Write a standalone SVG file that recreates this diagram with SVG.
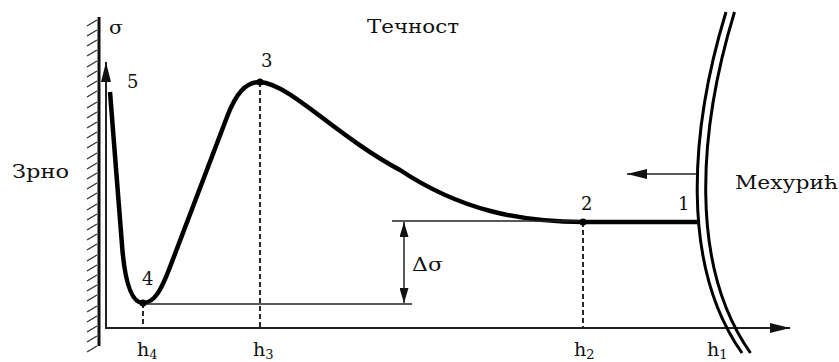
<svg xmlns="http://www.w3.org/2000/svg" width="839" height="362" viewBox="0 0 839 362">
<style>
text{font-family:"DejaVu Serif","Liberation Serif",serif;font-size:18px;fill:#111}
.h{font-size:19px}
.sub{font-size:13px}
.thin{stroke:#222;stroke-width:1.5;fill:none}
.axis{stroke:#222;stroke-width:2;fill:none}
.dash{stroke:#111;stroke-width:1.8;stroke-dasharray:5 3;fill:none}
.curve{stroke:#000;stroke-width:4.5;fill:none;stroke-linejoin:round;stroke-linecap:butt}
.bub{stroke:#000;stroke-width:3;fill:none}
.hatch{stroke:#333;stroke-width:1.4}
</style>
<defs>
<marker id="ah" viewBox="0 0 20 10" refX="20" refY="5" markerWidth="20" markerHeight="10" markerUnits="userSpaceOnUse" orient="auto">
<path d="M0,0 L20,5 L0,10 z" fill="#111"/>
</marker>
<marker id="ahs" viewBox="0 0 15 9" refX="15" refY="4.5" markerWidth="15" markerHeight="9" markerUnits="userSpaceOnUse" orient="auto-start-reverse">
<path d="M0,0 L15,4.5 L0,9 z" fill="#111"/>
</marker>
</defs>
<g id="wall">
<line x1="99" y1="17" x2="99" y2="346" stroke="#111" stroke-width="3"/>
<path class="hatch" d="M87,26 L97,20 M87,36 L97,30 M87,46 L97,40 M87,56 L97,50 M87,67 L97,61 M87,77 L97,71 M87,87 L97,81 M87,97 L97,91 M87,108 L97,102 M87,118 L97,112 M87,128 L97,122 M87,138 L97,132 M87,148 L97,142 M87,159 L97,153 M87,169 L97,163 M87,179 L97,173 M87,189 L97,183 M87,199 L97,193 M87,210 L97,204 M87,220 L97,214 M87,230 L97,224 M87,240 L97,234 M87,250 L97,244 M87,261 L97,255 M87,271 L97,265 M87,281 L97,275 M87,291 L97,285 M87,301 L97,295 M87,312 L97,306 M87,322 L97,316 M87,332 L97,326 M87,342 L97,336 M87,352 L97,346"/>
<text x="12" y="178" textLength="57" lengthAdjust="spacingAndGlyphs">Зрно</text>
</g>
<g id="axes">
<line class="axis" x1="106" y1="329" x2="106" y2="62" marker-end="url(#ah)"/>
<line class="axis" x1="105" y1="328" x2="790" y2="328" marker-end="url(#ah)"/>
<text x="109" y="34" textLength="14" lengthAdjust="spacingAndGlyphs">σ</text>
<text class="h" x="137" y="356">h<tspan class="sub" dy="3">4</tspan></text>
<text class="h" x="253" y="356">h<tspan class="sub" dy="3">3</tspan></text>
<text class="h" x="574" y="356">h<tspan class="sub" dy="3">2</tspan></text>
<text class="h" x="707" y="356">h<tspan class="sub" dy="3">1</tspan></text>
</g>
<g id="bubble">
<path class="bub" d="M726,12 C690,130 680,265 742,353"/>
<path class="bub" d="M734.5,12 C698.5,130 688.5,265 750.5,353"/>
<text x="735" y="189" textLength="103" lengthAdjust="spacingAndGlyphs">Мехурић</text>
</g>
<g id="liquid">
<text x="367" y="33" textLength="92" lengthAdjust="spacingAndGlyphs">Течност</text>
</g>
<g id="connectors">
<path class="curve" d="M110,92 L122,245 C125,285 132,303 143,303 C155,303 162,288 170,267 L227,117 C236,93 246,82 260,82 C290,84 335,135 400,170 C460,210 520,222 583,222 L699,222"/>
<line class="dash" x1="143" y1="303" x2="143" y2="327"/>
<line class="dash" x1="260" y1="82" x2="260" y2="327"/>
<line class="dash" x1="583" y1="222" x2="583" y2="327"/>
<line class="thin" x1="143" y1="304" x2="412" y2="304"/>
<line class="thin" x1="392" y1="221" x2="583" y2="221"/>
<line class="thin" x1="404" y1="222" x2="404" y2="303" marker-start="url(#ahs)" marker-end="url(#ahs)"/>
<line class="thin" x1="697" y1="174" x2="627" y2="174" marker-end="url(#ah)"/>
</g>
<g id="points">
<circle cx="143" cy="303" r="3.5"/>
<circle cx="260" cy="82" r="3.5"/>
<circle cx="583" cy="222" r="3.5"/>
<text x="127" y="88">5</text>
<text x="261" y="67">3</text>
<text x="142" y="285">4</text>
<text x="581" y="210">2</text>
<text x="678" y="210">1</text>
<text x="412" y="271" textLength="31" lengthAdjust="spacingAndGlyphs">Δσ</text>
</g>
</svg>
